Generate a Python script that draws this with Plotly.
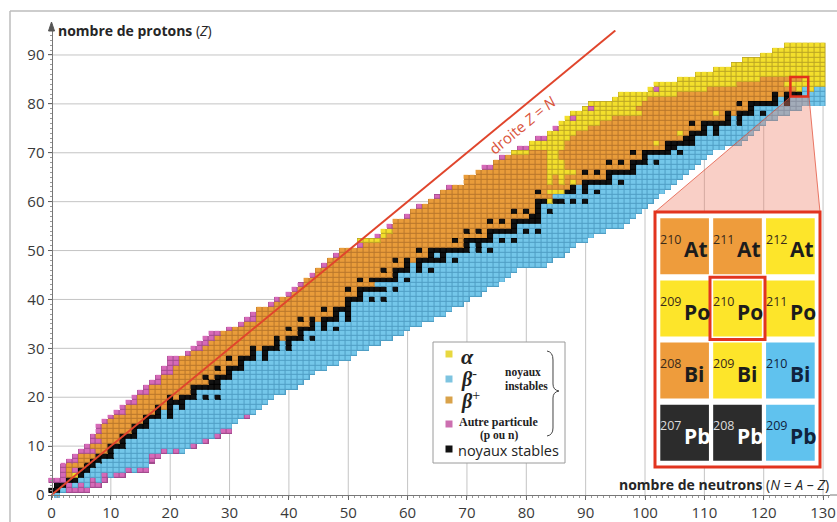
import plotly.graph_objects as go

# ---------------- data ----------------
Z_LIST = list(range(93))
N_AXIS = list(range(0, 131))

N_MIN = [1, 0, 1, 0, 2, 2, 2, 3, 4, 5,
         6, 7, 7, 8, 8, 9, 10, 11, 12, 13,
         14, 15, 16, 17, 18, 19, 19, 20, 20, 23,
         24, 25, 26, 27, 30, 32, 33, 34, 35, 37,
         38, 40, 41, 42, 43, 44, 45, 46, 47, 48,
         49, 52, 52, 55, 56, 57, 58, 60, 61, 62,
         64, 65, 66, 67, 70, 70, 72, 73, 75, 76,
         78, 79, 81, 82, 84, 85, 86, 87, 88, 90,
         91, 95, 96, 101, 102, 106, 109, 112, 115, 117,
         120, 122, 124]

N_MAX = [1, 6, 8, 9, 12, 16, 16, 17, 18, 22,
         24, 26, 28, 30, 30, 31, 33, 34, 35, 36,
         37, 39, 41, 42, 43, 44, 46, 48, 50, 51,
         53, 55, 57, 59, 60, 62, 64, 66, 67, 69,
         70, 72, 73, 75, 76, 77, 78, 83, 84, 86,
         87, 88, 90, 91, 93, 96, 97, 98, 99, 100,
         101, 102, 103, 104, 105, 106, 107, 108, 109, 110,
         111, 113, 116, 117, 118, 119, 120, 122, 124, 126,
         130, 130, 130, 130, 130, 130, 130, 130, 130, 130,
         130, 130, 130]

# first N of the beta-minus side for each Z
BM_FROM = [1, 2, 4, 5, 6, 7, 8, 9, 11, 11,
           13, 13, 15, 15, 17, 17, 19, 19, 21, 23,
           25, 25, 29, 29, 31, 31, 33, 33, 35, 35,
           39, 39, 43, 43, 45, 45, 49, 49, 51, 51,
           53, 53, 57, 55, 59, 59, 61, 61, 67, 65,
           71, 71, 75, 75, 79, 79, 83, 83, 83, 83,
           87, 85, 89, 89, 95, 95, 99, 99, 101, 101,
           105, 106, 109, 109, 111, 111, 115, 115, 119, 119,
           123, 123, 127, 127, 131, 131, 131, 131, 131, 131,
           131, 131, 131]

STABLE_N = [
    [], [0, 1], [1, 2], [3, 4], [5], [5, 6], [6, 7], [7, 8], [8, 9, 10], [10],
    [10, 11, 12], [12], [12, 13, 14], [14], [14, 15, 16], [16], [16, 17, 18, 20], [18, 20], [18, 20, 22], [20, 21, 22],
    [20, 22, 23, 24, 26, 28], [24], [24, 25, 26, 27, 28], [27, 28], [26, 28, 29, 30], [30], [28, 30, 31, 32], [32],
    [30, 32, 33, 34, 36], [34, 36],
    [34, 36, 37, 38, 40], [38, 40], [38, 40, 41, 42, 44], [42], [40, 42, 43, 44, 46, 48], [44, 46],
    [42, 44, 46, 47, 48, 50], [48, 50], [46, 48, 49, 50], [50],
    [50, 51, 52, 54, 56], [52], [50, 52, 53, 54, 55, 56, 58], [], [52, 54, 55, 56, 57, 58, 60], [58],
    [56, 58, 59, 60, 62, 64], [60, 62], [58, 60, 62, 63, 64, 65, 66, 68], [64, 66],
    [62, 64, 65, 66, 67, 68, 69, 70, 72, 74], [70, 72], [68, 70, 71, 72, 73, 74, 76, 78], [74],
    [70, 72, 74, 75, 76, 77, 78, 80, 82], [78], [74, 76, 78, 79, 80, 81, 82], [81, 82], [78, 80, 82, 84], [82],
    [82, 83, 85, 86, 88, 90], [], [82, 87, 88, 90, 92], [88, 90], [90, 91, 92, 93, 94, 96], [94],
    [90, 92, 94, 95, 96, 97, 98], [98], [94, 96, 98, 99, 100, 102], [100],
    [98, 100, 101, 102, 103, 104, 106], [104, 105], [104, 105, 106, 107, 108], [107, 108], [108, 109, 110, 112],
    [110, 112], [108, 110, 111, 112, 113, 114, 116], [114, 116], [114, 116, 117, 118, 120], [118],
    [116, 118, 119, 120, 121, 122, 124], [122, 124], [122, 124, 125, 126], [], [], [], [], [], [], [],
    [], [], []]

PINK_N = [
    [], [3, 4, 5, 6], [3, 5, 7, 8], [0, 1, 2, 7, 9], [2, 9, 11, 12], [2, 4, 13, 15, 16], [2], [3, 4, 17], [4, 17, 18],
    [5, 6, 7, 19, 21],
    [6, 24], [7, 8, 26], [7, 28], [8, 29, 30], [8], [9], [10, 33], [11, 12], [12], [13, 14],
    [14], [15, 16], [16], [17, 18], [18], [19, 20], [19, 20], [20, 21], [20, 21], [23],
    [24, 25], [25, 26], [26, 27], [27, 28], [30], [32], [33, 34], [34], [], [37],
    [38], [40], [41], [42], [], [44], [], [46], [], [48],
    [], [52], [], [55], [], [57], [], [60], [], [62],
    [], [65], [], [67], [], [], [], [73, 74], [], [76],
    [], [79, 80], [], [82, 83], [], [85], [], [88], [], [91],
    [], [], [], [102], [], [], [], [], [], [],
    [], [], []]

ALPHA_N = {
    4: [(4, 4)], 52: [(52, 55)], 53: [(56, 56)], 54: [(56, 57)],
    60: [(84, 84)], 62: [(84, 86)], 64: [(84, 84), (86, 86), (88, 88)], 65: [(84, 84), (86, 86)],
    66: [(84, 88)], 67: [(84, 86)], 68: [(84, 86)], 69: [(84, 85)], 70: [(78, 80), (84, 85)],
    71: [(81, 86)], 72: [(81, 86), (102, 102)], 73: [(84, 87)], 74: [(84, 88), (106, 106)],
    75: [(86, 90)], 76: [(86, 92)], 77: [(87, 87), (89, 94)], 78: [(88, 99), (112, 112)],
    79: [(90, 90), (92, 98)], 80: [(91, 99)], 81: [(95, 100)], 82: [(96, 105)],
    83: [(101, 101), (103, 110), (126, 126), (128, 128)], 84: [(102, 115), (124, 130)],
    85: [(106, 119), (127, 130)], 86: [(109, 130)], 87: [(112, 130)], 88: [(115, 130)],
    89: [(117, 130)], 90: [(120, 130)], 91: [(122, 130)], 92: [(124, 130)]}

LINE_ZN = [0, 95]
X_TICKS = list(range(0, 131, 10))
Y_TICKS = list(range(0, 91, 10))

INSET_N = [125, 126, 127]
INSET_Z = [82, 83, 84, 85]
SYMBOLS = {82: "Pb", 83: "Bi", 84: "Po", 85: "At"}
HIGHLIGHT = (126, 84)

# categories: 0 alpha, 1 beta-, 2 beta+, 3 other particle, 4 stable
FILL_COLORS = ["#f3df2c", "#74c7ea", "#e99c3a", "#d66ab8", "#121212"]
EDGE_COLORS = ["#b9a424", "#4f9ec4", "#b8762c", "#a24b8e", "#000000"]
INSET_COLORS = ["#fde52a", "#60c2ee", "#ee9c3c", "#d66ab8", "#2c2c2c"]
LEGEND_COLORS = ["#e8d840", "#7ec4e0", "#d9a24a", "#cc6fb0", "#111111"]


def category(n, z):
    if n in STABLE_N[z]:
        return 4
    if n in PINK_N[z]:
        return 3
    for a, b in ALPHA_N.get(z, []):
        if a <= n <= b:
            return 0
    if n >= BM_FROM[z]:
        return 1
    return 2


grid = [[None] * len(N_AXIS) for _ in Z_LIST]
for z in Z_LIST:
    for n in range(N_MIN[z], N_MAX[z] + 1):
        grid[z][n] = category(n, z)


def discrete(colors):
    k = len(colors)
    cs = []
    for i, c in enumerate(colors):
        cs.append([i / k, c])
        cs.append([(i + 1) / k, c])
    return cs


# ---------------- geometry (page pixels; body margin removed by post_script) ----------------
W, H = 837, 522
PLOT_L, PLOT_R, PLOT_T, PLOT_B = 48, 830, 30, 498
ML, MR, MT, MB = PLOT_L, W - PLOT_R, PLOT_T, H - PLOT_B
PW, PH = PLOT_R - PLOT_L, PLOT_B - PLOT_T
X_RANGE = [-0.59, 131.17]
Y_RANGE = [-0.61, 95.11]


def fx(px):
    return (px - PLOT_L) / PW


def fy(py):
    return (PLOT_B - py) / PH


fig = go.Figure()
fig.add_trace(go.Heatmap(x=N_AXIS, y=Z_LIST, z=grid, colorscale=discrete(EDGE_COLORS),
                         zmin=-0.5, zmax=4.5, showscale=False, hoverinfo="skip"))
fig.add_trace(go.Heatmap(x=N_AXIS, y=Z_LIST, z=grid, colorscale=discrete(FILL_COLORS),
                         zmin=-0.5, zmax=4.5, showscale=False, hoverinfo="skip",
                         xgap=1, ygap=1))
fig.add_trace(go.Scatter(x=LINE_ZN, y=LINE_ZN, mode="lines",
                         line=dict(color="#e0452c", width=2), hoverinfo="skip"))
# inset subplot anchor trace (invisible)
fig.add_trace(go.Scatter(x=[n for n in INSET_N for _ in INSET_Z],
                         y=[z for _ in INSET_N for z in INSET_Z],
                         xaxis="x2", yaxis="y2", mode="markers",
                         marker=dict(opacity=0), hoverinfo="skip"))

shapes = []
# partial gridlines: horizontal left of the band, vertical below the band
for zt in Y_TICKS[1:]:
    shapes.append(dict(type="line", xref="x", yref="y", x0=X_RANGE[0], x1=N_MIN[zt],
                       y0=zt, y1=zt, line=dict(color="#c4c4c4", width=1), layer="below"))
for nt in X_TICKS[1:]:
    zl = min(z for z in Z_LIST if N_MIN[z] <= nt <= N_MAX[z])
    shapes.append(dict(type="line", xref="x", yref="y", x0=nt, x1=nt,
                       y0=Y_RANGE[0], y1=zl, line=dict(color="#c4c4c4", width=1), layer="below"))

# zoom fan
fan = "M {} {} L {} {} L {} {} L {} {} Z".format(fx(791), fy(96.5), fx(655), fy(212),
                                                 fx(820), fy(212), fx(809), fy(96.5))
shapes.append(dict(type="path", xref="paper", yref="paper", path=fan,
                   fillcolor="rgba(240,128,104,0.38)", line=dict(color="rgba(225,70,45,0.7)", width=1),
                   layer="above"))
# small square on chart
shapes.append(dict(type="rect", xref="x", yref="y", x0=min(INSET_N) - 0.5, x1=max(INSET_N) + 0.5,
                   y0=min(INSET_Z) - 0.5, y1=max(INSET_Z) + 0.5,
                   line=dict(color="#e2301c", width=2.5), layer="above"))
# inset frame
shapes.append(dict(type="rect", xref="paper", yref="paper", x0=fx(655), x1=fx(820), y0=fy(467), y1=fy(212),
                   fillcolor="white", line=dict(color="#e2341f", width=3), layer="above"))
annotations = []
for n in INSET_N:
    for z in INSET_Z:
        c = category(n, z)
        shapes.append(dict(type="rect", xref="x2", yref="y2", x0=n - 0.46, x1=n + 0.46,
                           y0=z - 0.45, y1=z + 0.45, fillcolor=INSET_COLORS[c],
                           line=dict(width=0), layer="above"))
        if c == 4:
            sc, mc = "#ffffff", "#dcdcdc"
        elif c == 1:
            sc, mc = "#10233d", "#10233d"
        else:
            sc, mc = "#1c1c1c", "#3a2a1a"
        annotations.append(dict(xref="x2", yref="y2", x=n - 0.03, y=z + 0.11, text=str(n + z),
                                xanchor="right", yanchor="middle", showarrow=False,
                                font=dict(family="Open Sans", size=12.5, color=mc)))
        annotations.append(dict(xref="x2", yref="y2", x=n - 0.05, y=z - 0.05,
                                text="<b>" + SYMBOLS[z] + "</b>",
                                xanchor="left", yanchor="middle", showarrow=False,
                                font=dict(family="Open Sans", size=21, color=sc)))
shapes.append(dict(type="rect", xref="x2", yref="y2", x0=HIGHLIGHT[0] - 0.52, x1=HIGHLIGHT[0] + 0.52,
                   y0=HIGHLIGHT[1] - 0.5, y1=HIGHLIGHT[1] + 0.5,
                   line=dict(color="#e2341f", width=3), layer="above"))

# legend box
shapes.append(dict(type="rect", xref="paper", yref="paper", x0=fx(433), x1=fx(565), y0=fy(463), y1=fy(342),
                   fillcolor="white", line=dict(color="#9a9a9a", width=1), layer="above"))
for cidx, cy in zip([0, 1, 2, 3, 4], [354, 379, 400, 424, 449]):
    shapes.append(dict(type="rect", xref="paper", yref="paper", x0=fx(445.5), x1=fx(452.5),
                       y0=fy(cy + 3.5), y1=fy(cy - 3.5), fillcolor=LEGEND_COLORS[cidx],
                       line=dict(width=0), layer="above"))
brace_pts = [("M", 547, 351), ("Q", 553, 352, 553, 360), ("L", 553, 384), ("Q", 553, 390, 559, 391),
             ("Q", 553, 392, 553, 398), ("L", 553, 428), ("Q", 553, 435, 547, 436)]
parts = []
for p in brace_pts:
    vals = p[1:]
    coords = []
    for i in range(0, len(vals), 2):
        coords.append("{:.5f} {:.5f}".format(fx(vals[i]), fy(vals[i + 1])))
    parts.append(p[0] + " " + " ".join(coords))
shapes.append(dict(type="path", xref="paper", yref="paper", path=" ".join(parts),
                   line=dict(color="#444", width=1), layer="above"))

# y-axis arrow head
arrow = "M {} {} L {} {} L {} {} Z".format(fx(51.5), fy(22), fx(48.5), fy(31), fx(54.5), fy(31))
shapes.append(dict(type="path", xref="paper", yref="paper", path=arrow,
                   fillcolor="#555", line=dict(color="#555", width=1), layer="above"))

# outer frame
shapes.append(dict(type="line", xref="paper", yref="paper", x0=fx(10), x1=fx(837), y0=fy(11), y1=fy(11),
                   line=dict(color="#bdbdbd", width=1.5), layer="above"))
shapes.append(dict(type="line", xref="paper", yref="paper", x0=fx(10), x1=fx(10), y0=fy(11), y1=fy(522),
                   line=dict(color="#bdbdbd", width=1.5), layer="above"))
shapes.append(dict(type="line", xref="paper", yref="paper", x0=1, x1=fx(837), y0=fy(495), y1=fy(495),
                   line=dict(color="#777", width=1), layer="above"))

serif = "Liberation Serif"
annotations += [
    dict(xref="paper", yref="paper", x=fx(56), y=fy(30), text="<b>nombre de protons</b> (<i>Z</i>)",
         xanchor="left", yanchor="middle", showarrow=False,
         font=dict(family="Open Sans", size=14, color="#262626")),
    dict(xref="paper", yref="paper", x=fx(831), y=fy(484),
         text="<b>nombre de neutrons</b> (<i>N</i> = <i>A</i> – <i>Z</i>)",
         xanchor="right", yanchor="middle", showarrow=False,
         font=dict(family="Open Sans", size=14, color="#262626")),
    dict(xref="x", yref="y", x=79.3, y=75.6, text="droite <i>Z</i> = <i>N</i>", textangle=-39.5,
         showarrow=False, font=dict(family="Open Sans", size=15, color="#d9543c")),
    dict(xref="paper", yref="paper", x=fx(459), y=fy(356), text="<b><i>α</i></b>", xanchor="left",
         yanchor="middle", showarrow=False, font=dict(family=serif, size=22, color="#222")),
    dict(xref="paper", yref="paper", x=fx(459), y=fy(378), text="<b><i>β</i></b><sup>-</sup>", xanchor="left",
         yanchor="middle", showarrow=False, font=dict(family=serif, size=20, color="#222")),
    dict(xref="paper", yref="paper", x=fx(459), y=fy(400), text="<b><i>β</i></b><sup>+</sup>", xanchor="left",
         yanchor="middle", showarrow=False, font=dict(family=serif, size=20, color="#222")),
    dict(xref="paper", yref="paper", x=fx(457), y=fy(422), text="<b>Autre particule</b>", xanchor="left",
         yanchor="middle", showarrow=False, font=dict(family=serif, size=12, color="#222")),
    dict(xref="paper", yref="paper", x=fx(500), y=fy(435), text="<b>(p ou n)</b>", xanchor="center",
         yanchor="middle", showarrow=False, font=dict(family=serif, size=11.5, color="#222")),
    dict(xref="paper", yref="paper", x=fx(523), y=fy(372), text="<b>noyaux</b>", xanchor="center",
         yanchor="middle", showarrow=False, font=dict(family=serif, size=11.5, color="#222")),
    dict(xref="paper", yref="paper", x=fx(526), y=fy(386), text="<b>instables</b>", xanchor="center",
         yanchor="middle", showarrow=False, font=dict(family=serif, size=11.5, color="#222")),
    dict(xref="paper", yref="paper", x=fx(456), y=fy(450), text="noyaux stables", xanchor="left",
         yanchor="middle", showarrow=False, font=dict(family="Open Sans", size=14.5, color="#222")),
]

axis_font = dict(family="Open Sans", size=15, color="#3a3a3a")
fig.update_layout(
    width=W, height=H, margin=dict(l=ML, r=MR, t=MT, b=MB, autoexpand=False),
    paper_bgcolor="white", plot_bgcolor="white", showlegend=False,
    xaxis=dict(range=X_RANGE, tickmode="array", tickvals=X_TICKS, showgrid=False, zeroline=False,
               anchor="free", position=(0 - Y_RANGE[0]) / (Y_RANGE[1] - Y_RANGE[0]), automargin=False,
               showline=True, linecolor="#777", linewidth=1, ticks="outside", ticklen=4,
               tickcolor="#666", tickfont=axis_font,
               minor=dict(ticks="outside", ticklen=2, dtick=1, tick0=0, tickcolor="#999", showgrid=False)),
    yaxis=dict(range=Y_RANGE, tickmode="array", tickvals=Y_TICKS, showgrid=False, zeroline=False,
               anchor="free", position=(0 - X_RANGE[0]) / (X_RANGE[1] - X_RANGE[0]), automargin=False,
               showline=True, linecolor="#777", linewidth=1, ticks="outside", ticklen=4,
               tickcolor="#666", tickfont=axis_font,
               minor=dict(ticks="outside", ticklen=2, dtick=1, tick0=0, tickcolor="#999", showgrid=False)),
    xaxis2=dict(domain=[fx(655), fx(820)], range=[124.44, 127.56], visible=False, anchor="y2",
                showgrid=False, zeroline=False, automargin=False),
    yaxis2=dict(domain=[fy(467), fy(212)], range=[81.45, 85.55], visible=False, anchor="x2",
                showgrid=False, zeroline=False, automargin=False),
    shapes=shapes, annotations=annotations,
)

fig.write_html("out.html", config={"displayModeBar": False},
               post_script="document.body.style.margin='0';document.body.style.overflow='hidden';")
